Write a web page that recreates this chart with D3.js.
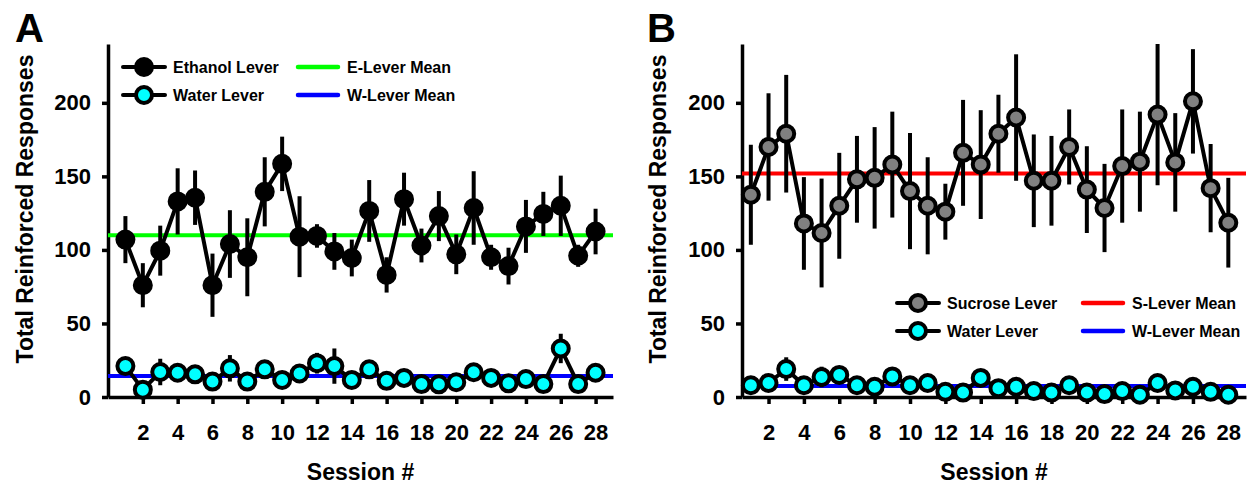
<!DOCTYPE html>
<html>
<head>
<meta charset="utf-8">
<script src="https://cdn.jsdelivr.net/npm/d3@7"></script>
<style>
  body { margin: 0; background: #fff; }
  svg text { font-family: "Liberation Sans", Arial, sans-serif; font-weight: bold; fill: #000; }
</style>
</head>
<body>
<svg id="chart" width="1255" height="488"></svg>
<script>
// sessions (x categories)
var sessions = [1, 2, 3, 4, 5, 6, 7, 8, 9, 10, 11, 12, 13, 14, 15, 16, 17, 18, 19, 20, 21, 22, 23, 24, 25, 26, 27, 28];
var xTicks = [2, 4, 6, 8, 10, 12, 14, 16, 18, 20, 22, 24, 26, 28];
var yTicks = [0, 50, 100, 150, 200];

// panel A
var ethanolMean = [107, 76, 99.5, 133, 135.5, 76, 104, 95, 139.5, 158.5, 109, 109.5, 99, 94.5, 126.5, 83, 134.5, 103, 123, 97, 128.5, 95, 89, 116, 124.5, 130, 96, 112.5];
var ethanolSem  = [16, 15, 17, 22.5, 18.5, 21.5, 23, 26.5, 23.5, 18.5, 27.5, 8, 12.5, 12.5, 21, 12, 18, 11.5, 17, 13.5, 25, 8.5, 12.5, 18, 15, 20.5, 7.5, 15.5];
var waterAMean  = [21, 5, 17, 16.5, 15.4, 10.5, 19.5, 10.5, 18.8, 11.6, 16, 23, 21, 11.6, 18.8, 11, 13, 8.8, 8.6, 10, 16.8, 13, 9.3, 12.2, 8.8, 33, 8.8, 16.5];
var waterASem   = [3, 2, 9, 3, 3, 3, 9, 3, 3, 3, 3, 7, 12, 3, 5, 3, 3, 3, 3, 3, 3, 3, 3, 3, 3, 10, 3, 3];
var eLeverMean = 110;
var wLeverMeanA = 14.3;

// panel B
var sucroseMean = [137.5, 170, 179, 118, 111.5, 130, 148, 149, 158, 140, 130, 126, 166, 158, 179, 190, 147, 147, 170, 141, 128.5, 157, 160, 192, 159.5, 201, 142, 118.5];
var sucroseSem  = [34, 36.5, 40, 31.5, 37, 36, 29.5, 34.5, 36, 39.5, 33, 19, 36, 37, 26.5, 43, 31.5, 30.5, 25.5, 29.5, 30, 38.5, 34, 48, 33.5, 35.5, 30, 30.5];
var waterBMean  = [8, 9.5, 19, 8, 13.6, 15, 8, 7, 14, 8, 9.5, 3.5, 3, 13, 6, 7, 4, 3, 8, 3, 2, 4, 1.5, 9.5, 4.5, 7, 3.5, 1.5];
var waterBSem   = [2, 2, 8, 2, 7, 3, 2, 2, 3, 2, 2, 2, 2, 3, 2, 2, 2, 2, 2, 2, 2, 2, 2, 2, 2, 2, 2, 2];
var sLeverMean = 152;
var wLeverMeanB = 7.5;

var svg = d3.select("#chart");

var y = d3.scaleLinear().domain([0, 240]).range([397, 44]);

function series(means, sems) {
    return sessions.map((s, i) => ({session: s, mean: means[i], sem: sems[i]}));
}

var panels = [
    {
        label: "A", labelX: 15, titleX: 33,
        xDomain: [0, 29], xRange: [108, 613],
        series: [
            {name: "Ethanol Lever", fill: "#000", data: series(ethanolMean, ethanolSem)},
            {name: "Water Lever", fill: "#00ffff", data: series(waterAMean, waterASem)}
        ],
        means: [
            {name: "E-Lever Mean", color: "#00ff00", value: eLeverMean},
            {name: "W-Lever Mean", color: "#0000ff", value: wLeverMeanA}
        ],
        legend: {x: 123, y: 67, meanX: 298}
    },
    {
        label: "B", labelX: 647, titleX: 666,
        xDomain: [0.5, 29], xRange: [742, 1246],
        series: [
            {name: "Sucrose Lever", fill: "#808080", data: series(sucroseMean, sucroseSem)},
            {name: "Water Lever", fill: "#00ffff", data: series(waterBMean, waterBSem)}
        ],
        means: [
            {name: "S-Lever Mean", color: "#ff0000", value: sLeverMean},
            {name: "W-Lever Mean", color: "#0000ff", value: wLeverMeanB}
        ],
        legend: {x: 897, y: 303, meanX: 1083}
    }
];

panels.forEach(p => drawPanel(p));

function drawPanel(p) {
    var x = d3.scaleLinear().domain(p.xDomain).range(p.xRange);
    var g = svg.append("g");

    // panel letter
    g.append("text")
        .attr("x", p.labelX).attr("y", 42)
        .attr("font-size", 40)
        .text(p.label);

    // axes
    var xAxis = d3.axisBottom(x).tickValues(xTicks).tickSize(7).tickSizeOuter(0).tickPadding(20);
    var yAxis = d3.axisLeft(y).tickValues(yTicks).tickSize(6).tickSizeOuter(0).tickPadding(11);

    g.append("g")
        .attr("transform", "translate(0," + y(0) + ")")
        .call(xAxis);
    g.append("g")
        .attr("transform", "translate(" + p.xRange[0] + ",0)")
        .call(yAxis);

    g.selectAll(".domain, .tick line")
        .attr("stroke", "#000")
        .attr("stroke-width", 3.5);
    g.selectAll(".tick text")
        .attr("font-size", 22)
        .attr("font-family", null);

    // axis titles
    g.append("text")
        .attr("transform", "translate(" + p.titleX + "," + 209 + ") rotate(-90)")
        .attr("text-anchor", "middle")
        .attr("font-size", 23)
        .text("Total Reinforced Responses");
    g.append("text")
        .attr("x", (p.xRange[0] + p.xRange[1]) / 2).attr("y", 480)
        .attr("text-anchor", "middle")
        .attr("font-size", 23)
        .text("Session #");

    // mean lines (behind data)
    g.selectAll(".meanLine")
        .data(p.means)
        .enter().append("line")
        .attr("class", "meanLine")
        .attr("x1", p.xRange[0]).attr("x2", p.xRange[1])
        .attr("y1", d => y(d.value)).attr("y2", d => y(d.value))
        .attr("stroke", d => d.color)
        .attr("stroke-width", 4);

    var line = d3.line()
        .x(d => x(d.session))
        .y(d => y(d.mean));

    p.series.forEach(s => {
        var sg = g.append("g");

        sg.selectAll(".err")
            .data(s.data)
            .enter().append("line")
            .attr("class", "err")
            .attr("x1", d => x(d.session)).attr("x2", d => x(d.session))
            .attr("y1", d => y(d.mean + d.sem))
            .attr("y2", d => y(Math.max(0, d.mean - d.sem)))
            .attr("stroke", "#000")
            .attr("stroke-width", 4);

        sg.append("path")
            .attr("d", line(s.data))
            .attr("fill", "none")
            .attr("stroke", "#000")
            .attr("stroke-width", 4)
            .attr("stroke-linejoin", "round");

        sg.selectAll("circle")
            .data(s.data)
            .enter().append("circle")
            .attr("cx", d => x(d.session))
            .attr("cy", d => y(d.mean))
            .attr("r", 8)
            .attr("fill", s.fill)
            .attr("stroke", "#000")
            .attr("stroke-width", 4);
    });

    // legend
    var lg = g.append("g");
    var rowGap = 28;

    p.series.forEach((s, i) => {
        var ly = p.legend.y + i * rowGap;
        lg.append("line")
            .attr("x1", p.legend.x).attr("x2", p.legend.x + 42)
            .attr("y1", ly).attr("y2", ly)
            .attr("stroke", "#000")
            .attr("stroke-width", 4)
            .attr("stroke-linecap", "round");
        lg.append("circle")
            .attr("cx", p.legend.x + 21).attr("cy", ly)
            .attr("r", 8)
            .attr("fill", s.fill)
            .attr("stroke", "#000")
            .attr("stroke-width", 4);
        lg.append("text")
            .attr("x", p.legend.x + 50).attr("y", ly)
            .attr("dy", "0.36em")
            .attr("font-size", 16)
            .text(s.name);
    });

    p.means.forEach((m, i) => {
        var ly = p.legend.y + i * rowGap;
        lg.append("line")
            .attr("x1", p.legend.meanX).attr("x2", p.legend.meanX + 40)
            .attr("y1", ly).attr("y2", ly)
            .attr("stroke", m.color)
            .attr("stroke-width", 4.5)
            .attr("stroke-linecap", "round");
        lg.append("text")
            .attr("x", p.legend.meanX + 49).attr("y", ly)
            .attr("dy", "0.36em")
            .attr("font-size", 16)
            .text(m.name);
    });
}
</script>
</body>
</html>
